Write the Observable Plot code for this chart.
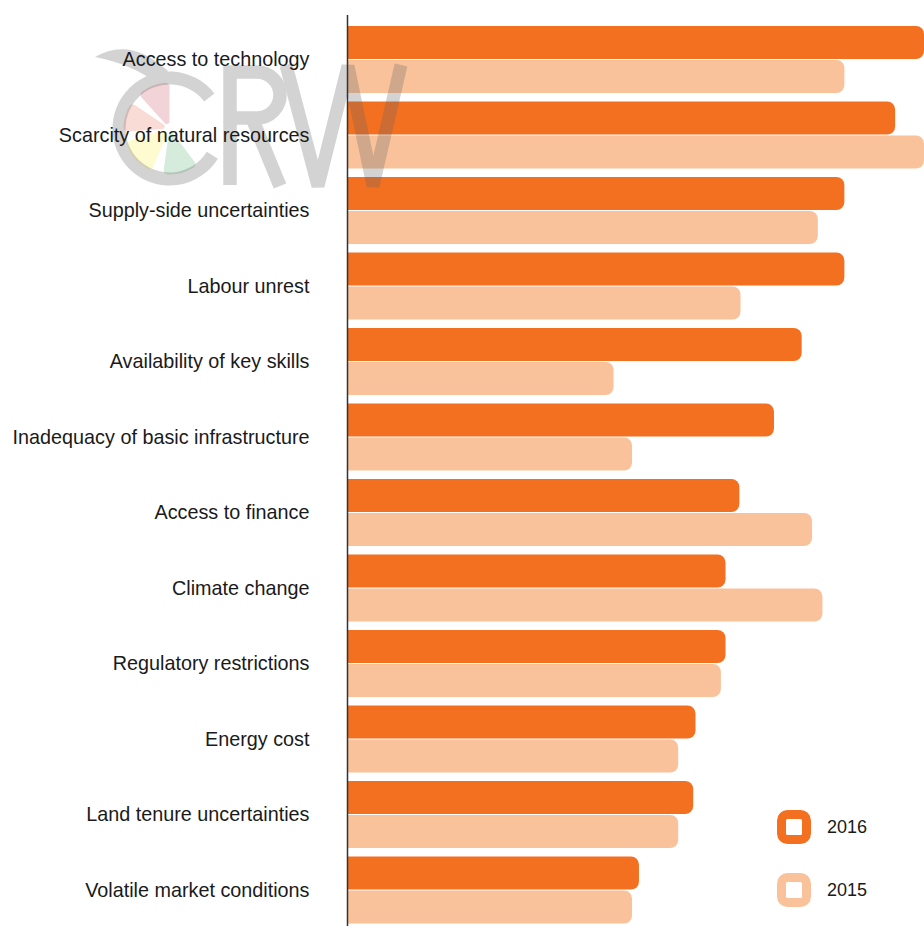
<!DOCTYPE html>
<html>
<head>
<meta charset="utf-8">
<script src="https://cdn.jsdelivr.net/npm/d3@7"></script>
<script src="https://cdn.jsdelivr.net/npm/@observablehq/plot@0.6"></script>
<style>
  html, body { margin: 0; padding: 0; background: #fff; }
  #chart { width: 924px; height: 926px; overflow: hidden; }
</style>
</head>
<body>
<div id="chart"></div>
<script>
const categories = [
  "Access to technology",
  "Scarcity of natural resources",
  "Supply-side uncertainties",
  "Labour unrest",
  "Availability of key skills",
  "Inadequacy of basic infrastructure",
  "Access to finance",
  "Climate change",
  "Regulatory restrictions",
  "Energy cost",
  "Land tenure uncertainties",
  "Volatile market conditions"
];
const seriesNames = ["2016", "2015"];
const values2016 = [50.0, 47.5, 43.1, 43.1, 39.4, 37.0, 34.0, 32.8, 32.8, 30.2, 30.0, 25.3];
const values2015 = [43.1, 50.0, 40.8, 34.1, 23.1, 24.7, 40.3, 41.2, 32.4, 28.7, 28.7, 24.7];
const seriesColors = ["#F37021", "#FAC29A"];

const rows2016 = categories.map((c, i) => ({category: c, year: seriesNames[0], value: values2016[i]}));
const rows2015 = categories.map((c, i) => ({category: c, year: seriesNames[1], value: values2015[i]}));

// CRW watermark logo (decorative graphic)
function logo() {
  const g = d3.create("svg:g").attr("aria-label", "CRW logo");
  const cx = 169.5, cy = 128.5, rad = Math.PI / 180;
  const wedges = [
    {a0: 318, a1: 360, fill: "#F2D4D8"},
    {a0: 266, a1: 304, fill: "#F9DCD5"},
    {a0: 203, a1: 253, fill: "#FEFBD0"},
    {a0: 143, a1: 188, fill: "#D5EBDC"}
  ];
  const wedgeArc = d3.arc().innerRadius(5).outerRadius(46).cornerRadius(4);
  const pie = g.append("g").attr("transform", `translate(${cx},${cy})`);
  for (const w of wedges) {
    pie.append("path").attr("d", wedgeArc({startAngle: w.a0 * rad, endAngle: w.a1 * rad})).attr("fill", w.fill);
  }
  const grey = g.append("g").attr("opacity", 0.28);
  grey.append("path")
    .attr("transform", `translate(${cx},${cy})`)
    .attr("d", d3.arc().innerRadius(44).outerRadius(57)({startAngle: 122 * rad, endAngle: 412 * rad}))
    .attr("fill", "#646464");
  grey.append("path")
    .attr("d", "M95,57 Q130,36 168,71 L158,84 Q132,64 95,57 Z")
    .attr("fill", "#646464");
  grey.append("path")
    .attr("d", "M230,185 L230,72 L257,72 A23,23 0 0 1 257,118 L230,118 M252,118 L280,186")
    .attr("fill", "none").attr("stroke", "#646464").attr("stroke-width", 13.5);
  grey.append("path")
    .attr("d", "M286,65 L318,186 L348,66 L373,186 L401,65")
    .attr("fill", "none").attr("stroke", "#646464").attr("stroke-width", 13).attr("stroke-linejoin", "miter");
  return g.node();
}

function legend() {
  const g = d3.create("svg:g").attr("aria-label", "legend");
  const items = [{name: seriesNames[0], color: seriesColors[0], cy: 827}, {name: seriesNames[1], color: seriesColors[1], cy: 890}];
  for (const it of items) {
    g.append("rect")
      .attr("x", 781.5).attr("y", it.cy - 12.5).attr("width", 25).attr("height", 25).attr("rx", 6)
      .attr("fill", "#fff").attr("stroke", it.color).attr("stroke-width", 9);
    g.append("text")
      .attr("x", 827).attr("y", it.cy).attr("dy", "0.35em").attr("text-anchor", "start")
      .attr("font-size", 18).attr("fill", "#1a1a1a").text(it.name);
  }
  return g.node();
}

const plot = Plot.plot({
  width: 924,
  height: 926,
  marginLeft: 347,
  marginRight: 0,
  marginTop: 15,
  marginBottom: 0,
  style: {fontFamily: "'Liberation Sans', Arial, Helvetica, sans-serif", fontSize: "19.8px", color: "#1a1a1a", background: "#fff", overflow: "visible"},
  x: {domain: [0, 50], axis: null},
  y: {domain: categories, round: false, paddingInner: 0.1126, paddingOuter: 0.0894, align: 0.815, label: null},
  marks: [
    Plot.barX(rows2016, {x: "value", y: "category", fill: seriesColors[0], rx: 8, insetLeft: -12, insetTop: 0, insetBottom: 34, clip: true}),
    Plot.barX(rows2015, {x: "value", y: "category", fill: seriesColors[1], rx: 8, insetLeft: -12, insetTop: 34, insetBottom: 0, clip: true}),
    logo,
    Plot.ruleX([0], {stroke: "#333", strokeWidth: 1.5}),
    Plot.axisY({tickSize: 0, tickPadding: 38, label: null, fontSize: 19.8}),
    legend
  ]
});
document.getElementById("chart").appendChild(plot);
</script>
</body>
</html>
